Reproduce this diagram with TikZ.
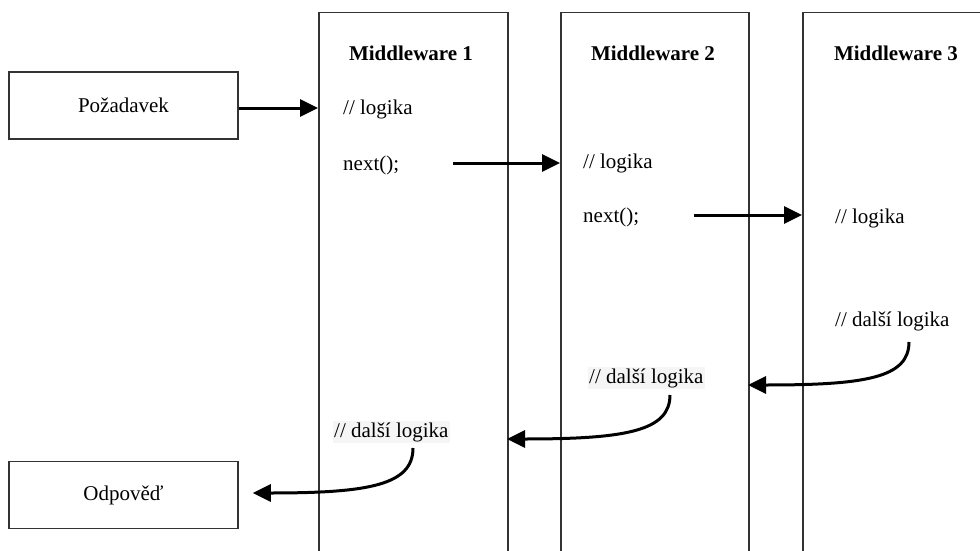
\documentclass[tikz,border=0pt]{standalone}
\usepackage{fontspec}
\setmainfont{Liberation Serif}
\usetikzlibrary{arrows.meta}
\begin{document}
\begin{tikzpicture}[x=1pt,y=-1pt,
  every node/.style={font=\fontsize{21}{25}\selectfont},
  frame/.style={draw=black!80, line width=1.5pt, inner sep=0pt},
  lane/.style={frame, anchor=north west, minimum height=600pt},
  io/.style={frame, minimum width=229pt, minimum height=67pt},
  title/.style={anchor=base, font=\fontsize{21}{25}\selectfont\bfseries},
  code/.style={anchor=base west, inner sep=1pt},
  hl/.style={code, fill=black!4},
  flow/.style={line width=3pt, -{Triangle[length=18pt,width=17pt]}}
]
\useasboundingbox (0,0) rectangle (980,551);
\clip (0,0) rectangle (980,551);

% lanes
\node[lane, minimum width=189pt] (m1) at (318,12) {};
\node[lane, minimum width=188pt] (m2) at (560,12) {};
\node[lane, minimum width=200pt] (m3) at (802,12) {};

\node[title] (t1) at (411,60) {Middleware 1};
\node[title] (t2) at (653,60) {Middleware 2};
\node[title] (t3) at (896,60) {Middleware 3};

% request / response
\node[io] (req) at (123.5,105.5) {Požadavek};
\node[io] (res) at (123.5,495) {Odpověď};

% code texts
\node[code] (l1) at (342,114) {// logika};
\node[code] (n1) at (342,170) {next();};
\node[code] (l2) at (582,168) {// logika};
\node[code] (n2) at (582,222) {next();};
\node[code] (l3) at (834,223) {// logika};
\node[code] (d3) at (834,326) {// další logika};
\node[hl]   (d2) at (588,383) {// další logika};
\node[hl]   (d1) at (333,437) {// další logika};

% straight arrows
\draw[flow] (req.east |- 0,108) -- (m1.west |- 0,108);
\coordinate (s1) at (453,163);
\draw[flow] (s1) -- (m2.west |- s1);
\coordinate (s2) at (694,215);
\draw[flow] (s2) -- (m3.west |- s2);

% curved return arrows
\coordinate (c3) at (909,342);
\coordinate (e3) at (748,385);
\draw[flow] (c3) .. controls (909,378) and (865,385) .. (e3);
\coordinate (c2) at (670,395);
\coordinate (e2) at (507,439);
\draw[flow] (c2) .. controls (670,431) and (626,439) .. (e2);
\coordinate (c1) at (413,448);
\coordinate (e1) at (res.east |- 0,493);
\draw[flow] (c1) .. controls (413,485) and (369,493) .. ([xshift=14pt]e1);
\end{tikzpicture}
\end{document}
